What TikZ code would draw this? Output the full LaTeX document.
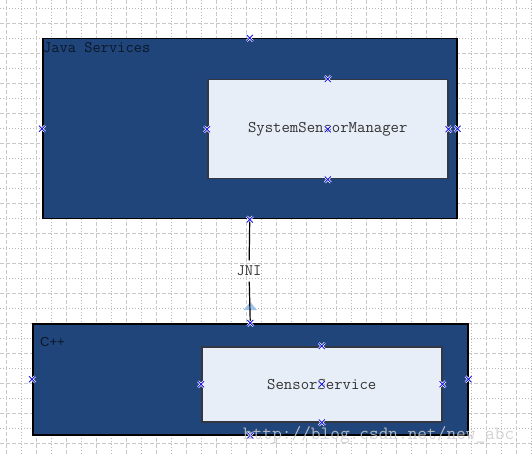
\documentclass[tikz,border=0pt]{standalone}
\usepackage{fontspec}
\usetikzlibrary{calc}
\newfontfamily\sansf{Liberation Sans}
\definecolor{boxblue}{RGB}{31,69,122}
\definecolor{innerfill}{RGB}{232,238,248}
\definecolor{innerline}{RGB}{50,55,65}
\definecolor{gridA}{RGB}{200,200,200}
\definecolor{gridB}{RGB}{185,185,185}
\definecolor{mkblue}{RGB}{20,20,230}
\definecolor{tipblue}{RGB}{160,195,235}
\definecolor{darktxt}{RGB}{12,22,40}
\definecolor{graytxt}{RGB}{50,50,50}
\tikzset{
  outerbox/.style={draw=black, line width=1.5pt, fill=boxblue, inner sep=0pt, anchor=north west},
  innerbox/.style={draw=innerline, line width=1.5pt, fill=innerfill, inner sep=0pt, anchor=north west,
     font=\ttfamily\fontsize{16.3}{18}\selectfont, text=graytxt},
  majorgrid/.style={gridA, line width=0.9pt, dash pattern=on 4pt off 2pt},
  minorgrid/.style={gridB, line width=0.9pt, dash pattern=on 1pt off 2pt},
  mk/.pic={
    \draw[white, line width=2.2pt] (-3,-3) -- (3,3) (-3,3) -- (3,-3);
    \draw[mkblue, line width=0.8pt] (-3,-3) -- (3,3) (-3,3) -- (3,-3);
  },
  conn/.style={draw=black, line width=1.2pt},
}
\begin{document}
\begin{tikzpicture}[x=1pt,y=-1pt]
\useasboundingbox (0,0) rectangle (532,454);
\fill[white] (0,0) rectangle (532,454);
% grid
\foreach \x in {21,51,...,531} \draw[minorgrid] (\x,0) -- (\x,454);
\foreach \y in {8,38,...,454} \draw[minorgrid] (0,\y) -- (532,\y);
\foreach \x in {6,36,...,531} \draw[majorgrid] (\x,0) -- (\x,454);
\foreach \y in {23,53,...,454} \draw[majorgrid] (0,\y) -- (532,\y);

% Java services
\node[outerbox, minimum width=414pt, minimum height=180pt] (java) at (42,38) {};
\node[anchor=base west, inner sep=0pt, text=darktxt, font=\ttfamily\fontsize{16}{18}\selectfont] (javalbl) at (43,53) {Java Services};
\node[innerbox, minimum width=240pt, minimum height=99pt] (ssm) at (207,79) {SystemSensorManager};

% C++
\node[outerbox, minimum width=435pt, minimum height=111pt] (cpp) at (32,323) {};
\node[anchor=base west, inner sep=0pt, text=darktxt, font=\sansf\fontsize{13}{15}\selectfont] (cpplbl) at (40,346) {C++};
\node[innerbox, minimum width=240pt, minimum height=75pt] (ss) at (201,346) {SensorService};

% connector
\node[inner sep=0pt, minimum height=21pt, text=graytxt, font=\ttfamily\fontsize{16}{18}\selectfont] (jni) at (249,271) {JNI};
\fill[tipblue] ($(cpp.north)+(0,-21)$) -- ($(cpp.north)+(-6.7,-13)$) -- ($(cpp.north)+(6.7,-13)$) -- cycle;
\draw[conn] (java.south) -- (jni);
\draw[conn] (jni) -- (cpp.north);

% markers
\foreach \n in {java.north,java.west,java.east,java.south,
                ssm.north,ssm.west,ssm.east,ssm.south,ssm.center,
                cpp.north,cpp.west,cpp.east,cpp.south,
                ss.north,ss.west,ss.east,ss.south,ss.center}
  \pic at (\n) {mk};

% watermark
\node[anchor=base west, inner sep=0pt, text=gray!40, opacity=0.85, font=\ttfamily\fontsize{18.8}{20}\selectfont] (wm) at (243,439) {http://blog.csdn.net/new\_abc};
\end{tikzpicture}
\end{document}
